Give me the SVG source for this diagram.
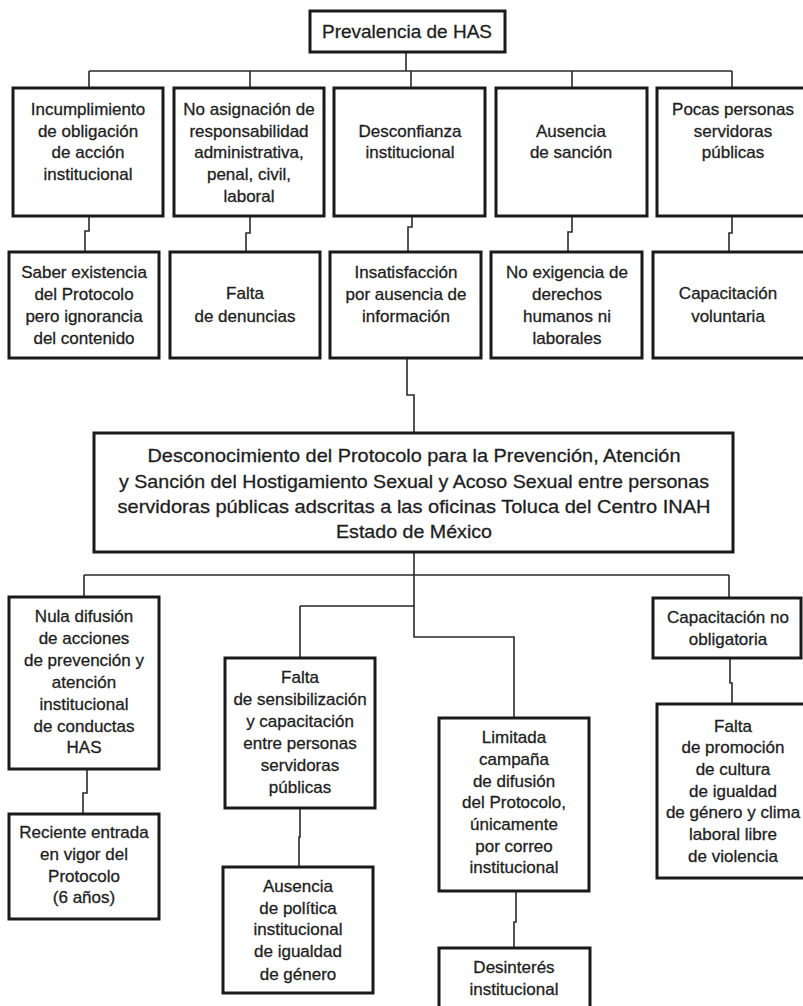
<svg xmlns="http://www.w3.org/2000/svg" width="803" height="1006" viewBox="0 0 803 1006">
<style>
.box{fill:#fff;stroke:#1a1a1a;stroke-width:3}
.c{fill:none;stroke:#2a2a2a;stroke-width:1.6}
text{font-family:"Liberation Sans",Arial,sans-serif;font-size:17px;fill:#1e1e1e;stroke:#1e1e1e;stroke-width:0.3;text-anchor:middle}
.big{font-size:19px}
</style>
<rect width="803" height="1006" fill="#fff"/>
<g id="connectors">
<path class="c" d="M406 52V71M89 71H732M89 71V88M250 71V88M411 71V88M572 71V88M732 71V88"/>
<path class="c" d="M89 216V231H85V252M250 216V233H246V252M412 216V227H408V252M572 216V232H568V252M732 216V233H729V252"/>
<path class="c" d="M407 358V395H414V433"/>
<path class="c" d="M414 552V637H514V718M84 575H729M84 575V597M729 575V598M300 606H414M300 606V658"/>
<path class="c" d="M87 769V793H83V814M300 808V837H299V867M730 658V683H732V704M516 891V922H514V948"/>
</g>
<g id="n-top"><rect class="box" x="310" y="11" width="195" height="41"/><text class="big" x="407" y="38">Prevalencia de HAS</text></g>
<g id="n-r1a"><rect class="box" x="13" y="88" width="150" height="128"/><text x="88" y="115">Incumplimiento</text><text x="88" y="137">de obligación</text><text x="88" y="158">de acción</text><text x="88" y="180">institucional</text></g>
<g id="n-r1b"><rect class="box" x="174" y="88" width="150" height="128"/><text x="249" y="115">No asignación de</text><text x="249" y="137">responsabilidad</text><text x="249" y="158">administrativa,</text><text x="249" y="180">penal, civil,</text><text x="249" y="202">laboral</text></g>
<g id="n-r1c"><rect class="box" x="334" y="88" width="151" height="128"/><text x="410" y="137">Desconfianza</text><text x="410" y="158">institucional</text></g>
<g id="n-r1d"><rect class="box" x="496" y="88" width="151" height="128"/><text x="571" y="137">Ausencia</text><text x="571" y="158">de sanción</text></g>
<g id="n-r1e"><rect class="box" x="657" y="88" width="160" height="128"/><text x="733" y="115">Pocas personas</text><text x="733" y="137">servidoras</text><text x="733" y="158">públicas</text></g>
<g id="n-r2a"><rect class="box" x="9" y="252" width="150" height="106"/><text x="84" y="278">Saber existencia</text><text x="84" y="300">del Protocolo</text><text x="84" y="322">pero ignorancia</text><text x="84" y="344">del contenido</text></g>
<g id="n-r2b"><rect class="box" x="170" y="252" width="150" height="106"/><text x="245" y="299">Falta</text><text x="245" y="322">de denuncias</text></g>
<g id="n-r2c"><rect class="box" x="330" y="252" width="151" height="106"/><text x="406" y="278">Insatisfacción</text><text x="406" y="300">por ausencia de</text><text x="406" y="322">información</text></g>
<g id="n-r2d"><rect class="box" x="491" y="252" width="151" height="106"/><text x="567" y="278">No exigencia de</text><text x="567" y="300">derechos</text><text x="567" y="322">humanos ni</text><text x="567" y="344">laborales</text></g>
<g id="n-r2e"><rect class="box" x="653" y="252" width="160" height="106"/><text x="728" y="299">Capacitación</text><text x="728" y="322">voluntaria</text></g>
<g id="n-central"><rect class="box" x="94" y="433" width="639" height="119"/>
<text class="big" x="414" y="462" textLength="533" lengthAdjust="spacingAndGlyphs">Desconocimiento del Protocolo para la Prevención, Atención</text>
<text class="big" x="414" y="488" textLength="590" lengthAdjust="spacingAndGlyphs">y Sanción del Hostigamiento Sexual y Acoso Sexual entre personas</text>
<text class="big" x="414" y="513" textLength="593" lengthAdjust="spacingAndGlyphs">servidoras públicas adscritas a las oficinas Toluca del Centro INAH</text>
<text class="big" x="414" y="538" textLength="156" lengthAdjust="spacingAndGlyphs">Estado de México</text></g>
<g id="n-nula"><rect class="box" x="9" y="597" width="150" height="172"/><text x="84" y="622">Nula difusión</text><text x="84" y="644">de acciones</text><text x="84" y="666">de prevención y</text><text x="84" y="688">atención</text><text x="84" y="710">institucional</text><text x="84" y="732">de conductas</text><text x="84" y="753">HAS</text></g>
<g id="n-reciente"><rect class="box" x="9" y="814" width="150" height="105"/><text x="84" y="838">Reciente entrada</text><text x="84" y="860">en vigor del</text><text x="84" y="882">Protocolo</text><text x="84" y="903">(6 años)</text></g>
<g id="n-sens"><rect class="box" x="225" y="658" width="150" height="150"/><text x="300" y="683">Falta</text><text x="300" y="705">de sensibilización</text><text x="300" y="727">y capacitación</text><text x="300" y="749">entre personas</text><text x="300" y="771">servidoras</text><text x="300" y="793">públicas</text></g>
<g id="n-politica"><rect class="box" x="223" y="867" width="150" height="126"/><text x="298" y="892">Ausencia</text><text x="298" y="914">de política</text><text x="298" y="935">institucional</text><text x="298" y="957">de igualdad</text><text x="298" y="980">de género</text></g>
<g id="n-limitada"><rect class="box" x="439" y="718" width="150" height="173"/><text x="514" y="743">Limitada</text><text x="514" y="765">campaña</text><text x="514" y="787">de difusión</text><text x="514" y="808">del Protocolo,</text><text x="514" y="830">únicamente</text><text x="514" y="852">por correo</text><text x="514" y="873">institucional</text></g>
<g id="n-desinteres"><rect class="box" x="439" y="948" width="151" height="70"/><text x="514" y="973">Desinterés</text><text x="514" y="995">institucional</text></g>
<g id="n-capno"><rect class="box" x="653" y="598" width="148" height="60"/><text x="728" y="623">Capacitación no</text><text x="728" y="645">obligatoria</text></g>
<g id="n-promo"><rect class="box" x="657" y="704" width="160" height="174"/><text x="733" y="732">Falta</text><text x="733" y="753">de promoción</text><text x="733" y="775">de cultura</text><text x="733" y="797">de igualdad</text><text x="733" y="818">de género y clima</text><text x="733" y="840">laboral libre</text><text x="733" y="862">de violencia</text></g>
</svg>
